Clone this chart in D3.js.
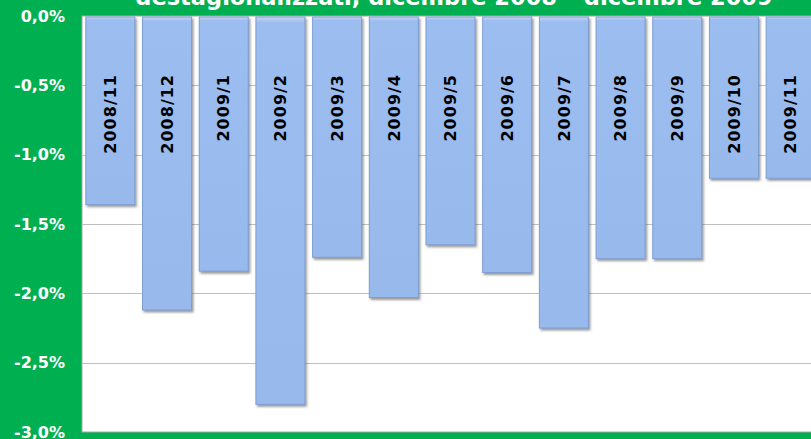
<!DOCTYPE html>
<html>
<head>
<meta charset="utf-8">
<script src="https://cdn.jsdelivr.net/npm/d3@7"></script>
<style>
  html, body { margin: 0; padding: 0; background: #00B050; overflow: hidden; }
  svg { display: block; font-family: "DejaVu Sans", Verdana, sans-serif; }
</style>
</head>
<body>
<svg id="chart"></svg>
<script>
// Chart size
const width = 811;
const height = 439;

// Data
const months = ["2008/11", "2008/12", "2009/1", "2009/2", "2009/3", "2009/4", "2009/5",
                "2009/6", "2009/7", "2009/8", "2009/9", "2009/10", "2009/11"];
const values = [-1.36, -2.12, -1.84, -2.80, -1.74, -2.03, -1.65,
                -1.85, -2.25, -1.75, -1.75, -1.17, -1.17];
const yTicks = [0, -0.5, -1, -1.5, -2, -2.5, -3];
const title = "destagionalizzati, dicembre 2008 – dicembre 2009";

// Plot area (runs past the right edge, as in the picture)
const plot = { left: 82, top: 16, right: 819, bottom: 432 };

const svg = d3.select("#chart")
    .attr("width", width)
    .attr("height", height);

// Green background
svg.append("rect")
    .attr("width", width)
    .attr("height", height)
    .attr("fill", "#00B050");

const defs = svg.append("defs");
const shadow = defs.append("filter")
    .attr("id", "shadow")
    .attr("x", "-10%").attr("y", "-10%")
    .attr("width", "130%").attr("height", "130%");
shadow.append("feDropShadow")
    .attr("dx", 1.5).attr("dy", 2)
    .attr("stdDeviation", 1)
    .attr("flood-color", "#555")
    .attr("flood-opacity", 0.6);

const grad = defs.append("linearGradient")
    .attr("id", "barFill")
    .attr("x1", 0).attr("x2", 0).attr("y1", 0).attr("y2", 1);
grad.append("stop").attr("offset", "0%").attr("stop-color", "#c3d6f5");
grad.append("stop").attr("offset", "1.5%").attr("stop-color", "#9cbdef");
grad.append("stop").attr("offset", "100%").attr("stop-color", "#97b9ec");

// Scales
const x = d3.scaleBand()
    .domain(months)
    .range([plot.left, plot.right])
    .paddingInner(0.136)
    .paddingOuter(0.068);

const y = d3.scaleLinear()
    .domain([-3, 0])
    .range([plot.bottom, plot.top]);

// White plot area
svg.append("rect")
    .attr("x", plot.left)
    .attr("y", plot.top)
    .attr("width", plot.right - plot.left)
    .attr("height", plot.bottom - plot.top)
    .attr("fill", "#fff")
    .attr("stroke", "#a6a6a6")
    .attr("stroke-width", 1);

// Gridlines
svg.append("g")
    .selectAll("line")
    .data(yTicks.filter(d => d > -3 && d < 0))
    .enter().append("line")
    .attr("x1", plot.left)
    .attr("x2", plot.right)
    .attr("y1", d => Math.round(y(d)) + 0.5)
    .attr("y2", d => Math.round(y(d)) + 0.5)
    .attr("stroke", "#bfbfbf")
    .attr("stroke-width", 1);

// Y axis labels
const fmt = d => d.toFixed(1).replace(".", ",") + "%";
const yAxis = d3.axisLeft(y)
    .tickValues(yTicks)
    .tickFormat(fmt)
    .tickSize(0)
    .tickPadding(17);

svg.append("g")
    .attr("transform", `translate(${plot.left},0)`)
    .call(yAxis)
    .call(g => g.select(".domain").remove())
    .call(g => g.selectAll("text")
        .attr("fill", "#fff")
        .attr("font-size", 16)
        .attr("font-weight", "bold")
        .attr("font-family", "'DejaVu Sans', Verdana, sans-serif"));

// Bars
svg.append("g")
    .selectAll("rect")
    .data(values)
    .enter().append("rect")
    .attr("x", (d, i) => x(months[i]))
    .attr("y", y(0) + 1)
    .attr("width", x.bandwidth())
    .attr("height", d => y(d) - y(0) - 1)
    .attr("fill", "url(#barFill)")
    .attr("stroke", "#7f9fd1")
    .attr("stroke-width", 1)
    .attr("filter", "url(#shadow)");

// Month labels inside bars
svg.append("g")
    .selectAll("text")
    .data(months)
    .enter().append("text")
    .attr("transform", d => `translate(${x(d) + x.bandwidth() / 2},74) rotate(-90)`)
    .attr("text-anchor", "end")
    .attr("dy", "0.36em")
    .attr("font-size", 16)
    .attr("font-weight", "bold")
    .attr("letter-spacing", 1)
    .attr("fill", "#000")
    .text(d => d);

// Title (cut off at the top, as in the picture)
svg.append("text")
    .attr("x", 454)
    .attr("y", 4.5)
    .attr("text-anchor", "middle")
    .attr("font-size", 22.5)
    .attr("font-weight", "bold")
    .attr("fill", "#fff")
    .text(title);
</script>
</body>
</html>
